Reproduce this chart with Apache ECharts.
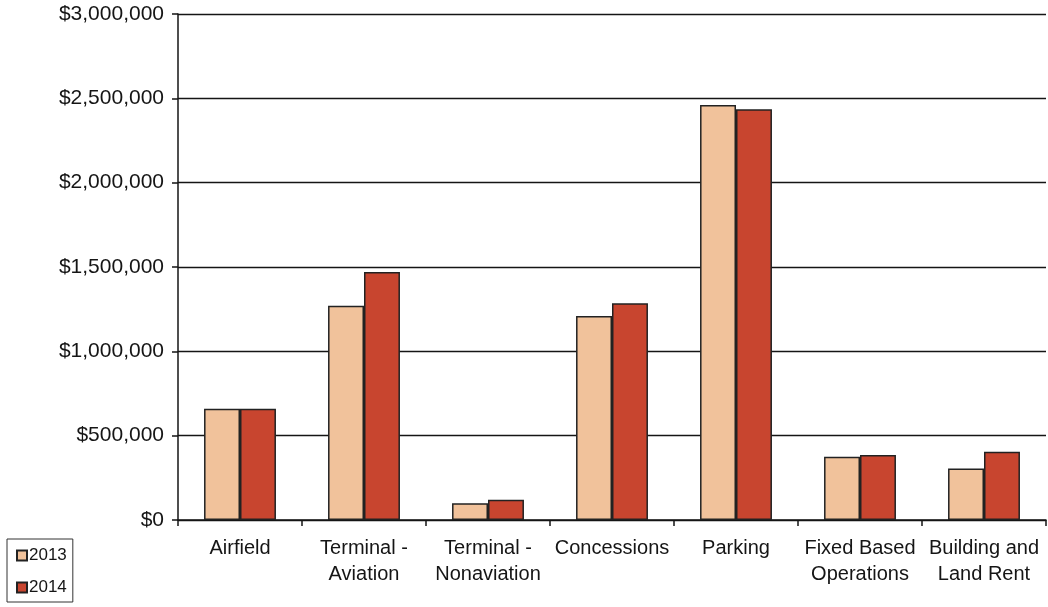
<!DOCTYPE html>
<html>
<head>
<meta charset="utf-8">
<script src="https://cdn.jsdelivr.net/npm/echarts@6/dist/echarts.min.js"></script>
<style>
  html, body { margin: 0; padding: 0; background: #fff; }
  #chart { width: 1048px; height: 607px; }
</style>
</head>
<body>
<div id="chart"></div>
<script>
// Revenue by category, 2013 vs 2014
const categories = [
  'Airfield',
  'Terminal -\nAviation',
  'Terminal -\nNonaviation',
  'Concessions',
  'Parking',
  'Fixed Based\nOperations',
  'Building and\nLand Rent'
];
const values2013 = [660000, 1270000, 100000, 1210000, 2460000, 375000, 305000];
const values2014 = [660000, 1470000, 120000, 1285000, 2435000, 385000, 405000];
const yTicks = { min: 0, max: 3000000, interval: 500000 };

const FONT = 'Liberation Sans, Arial, sans-serif';
const INK = '#151515';

const chart = echarts.init(document.getElementById('chart'));
chart.setOption({
  backgroundColor: '#ffffff',
  animation: false,
  grid: { left: 178, right: 2, top: 14, bottom: 87 },
  legend: {
    orient: 'vertical',
    left: 7,
    top: 539,
    width: 65,
    height: 67,
    padding: [8, 6, 6, 9],
    itemGap: 15,
    itemWidth: 10,
    itemHeight: 10,
    icon: 'rect',
    borderColor: '#333',
    borderWidth: 1,
    textStyle: { fontFamily: FONT, fontSize: 17, color: INK, padding: [0, 0, 0, -3] },
    data: ['2013', '2014']
  },
  xAxis: {
    type: 'category',
    data: categories,
    axisLine: { lineStyle: { color: INK, width: 1.5 } },
    axisTick: { show: true, length: 6, inside: false, lineStyle: { color: INK, width: 1.5 } },
    axisLabel: {
      interval: 0,
      margin: 15,
      fontFamily: FONT,
      fontSize: 20,
      lineHeight: 26,
      color: INK
    }
  },
  yAxis: {
    type: 'value',
    min: yTicks.min,
    max: yTicks.max,
    interval: yTicks.interval,
    axisLine: { show: true, lineStyle: { color: INK, width: 1.5 } },
    axisTick: { show: true, length: 6, lineStyle: { color: INK, width: 1.5 } },
    splitLine: { lineStyle: { color: INK, width: 1.4 } },
    axisLabel: {
      margin: 14,
      fontFamily: FONT,
      fontSize: 21,
      color: INK,
      formatter: v => '$' + v.toLocaleString('en-US')
    }
  },
  series: [
    {
      name: '2013',
      type: 'bar',
      data: values2013,
      barCategoryGap: '42%',
      barGap: '0%',
      itemStyle: { color: '#F1C29B', borderColor: '#222', borderWidth: 1.5 }
    },
    {
      name: '2014',
      type: 'bar',
      data: values2014,
      itemStyle: { color: '#C8452F', borderColor: '#222', borderWidth: 1.5 }
    }
  ]
});
</script>
</body>
</html>
